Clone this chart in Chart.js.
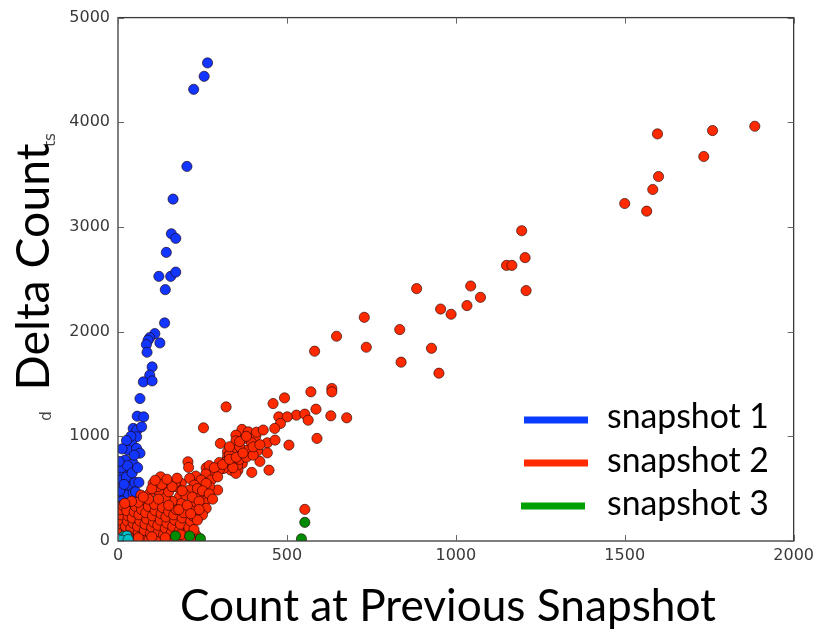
<!DOCTYPE html>
<html>
<head>
<meta charset="utf-8">
<script src="https://cdn.jsdelivr.net/npm/chart.js@4/dist/chart.umd.min.js"></script>
<style>
  html, body { margin: 0; padding: 0; background: #ffffff; }
  #wrap { width: 819px; height: 634px; position: relative; }
</style>
</head>
<body>
<div id="wrap"><canvas id="c" width="819" height="634"></canvas></div>
<script>
// ---------- data ----------
const seriesLabels = ['snapshot 1', 'snapshot 2', 'snapshot 3'];
const xTicks = [0, 500, 1000, 1500, 2000];
const yTicks = [0, 1000, 2000, 3000, 4000, 5000];
const xTitle = 'Count at Previous Snapshot';
const yTitle = 'Delta Count';

const snapshot1 = [
  [265,4567],[255,4439],[224,4315],[204,3578],[163,3266],[158,2935],[171,2891],[143,2757],
  [121,2528],[156,2528],[171,2569],[140,2401],[138,2083],[109,1981],[94,1943],[89,1918],
  [84,1876],[124,1892],[86,1803],[101,1663],[94,1584],[75,1520],[101,1529],[65,1361],
  [57,1192],[76,1186],[45,1075],[56,1059],[70,1091],[35,900],[55,995],[40,932],[30,868],
  [55,884],[65,839],[21,773],[45,741],[30,677],[16,646],[35,582],[21,518],[40,518],[16,423],
  [30,439],[50,375],[6,582],[10,700],[25,610],[5,480],[12,380],[8,260],[20,300],[35,340],
  [45,460],[2,150],[60,420],[50,560],[28,720],[48,820],[38,1000],[25,960],[4,60],[14,200],
  [3,330],[18,540],[42,650],[58,700],[12,880],[3,760],[52,470],[62,560]
];

const snapshot2 = [
  // outer trail
  [1885,3962],[1760,3921],[1597,3889],[1734,3673],[1600,3482],[1583,3358],[1500,3224],[1565,3151],
  [1195,2964],[1205,2707],[1150,2633],[1166,2633],[1208,2392],[1044,2436],[1073,2328],[1033,2249],
  [884,2411],[955,2216],[986,2166],[834,2020],[928,1841],[950,1603],[838,1708],[729,2137],
  [735,1851],[647,1956],[582,1813],
  // middle band
  [633,1457],[633,1425],[571,1425],[493,1367],[459,1313],[320,1281],[586,1259],[630,1196],
  [677,1177],[528,1202],[553,1212],[476,1186],[501,1186],[563,1154],[481,1123],[464,1075],
  [506,916],[589,980],[253,1081],[367,1066],[386,1043],[349,1011],[408,1002],[375,980],
  [349,957],[303,932],[442,938],[465,964],[324,852],[349,846],[386,861],[413,861],[442,842],
  [383,868],[324,805],[320,757],[339,741],[368,741],[309,693],[334,677],[355,677],[396,655],
  [447,677],[261,699],[290,661],[207,757],[209,703],[354,725],[312,693],[349,646],[280,640],
  [300,680],[340,700],[360,780],[380,800],[300,750],[270,720],[420,760],[400,820],[330,820],
  [395,940],[360,900],[553,302],
  [285,700],[310,730],[330,780],[350,800],[370,840],[400,900],[420,920],[360,950],[380,1000],
  [330,900],[410,1040],[430,1060],[230,620],[260,640],
  // lower cluster
  [276,582],[251,566],[295,487],[271,518],[261,391],[255,302],[251,455],[295,613],[246,582],
  [212,598],[226,534],[261,550],[187,550],[172,518],[126,613],[104,550],[143,487],[212,487],
  [241,455],[94,455],[124,455],[68,439],[182,423],[133,391],[84,359],[109,343],[6,327],
  [65,312],[45,296],[261,312],[226,327],[192,327],[172,327],[143,280],[114,248],[158,264],
  [202,232],[75,232],[16,232],[168,169],[133,136],[94,121],[55,136],[26,169],[182,136],
  [26,80],[84,73],[124,73],
  [2,20],[8,60],[5,110],[12,160],[3,200],[10,250],[6,300],[15,340],[20,30],[25,90],[22,140],
  [28,190],[30,240],[26,290],[35,10],[40,60],[38,120],[45,170],[42,220],[48,280],[52,330],
  [55,20],[60,80],[58,140],[65,190],[62,250],[70,300],[72,40],[78,100],[80,160],[85,210],
  [82,270],[90,330],[92,15],[96,70],[100,130],[105,180],[102,240],[110,290],[108,350],
  [115,30],[120,90],[118,150],[125,200],[128,260],[132,320],[135,60],[140,120],[145,170],
  [142,230],[150,280],[155,10],[158,80],[162,140],[168,200],[165,250],[172,300],[178,40],
  [182,100],[185,160],[190,220],[195,270],[200,20],[205,80],[210,130],[215,190],[222,240],
  [226,380],[230,60],[188,360],[160,380],[140,410],[118,520],[150,470],[200,440],[235,500],
  [170,560],[90,400],[60,370],[215,30],[225,110],
  [100,500],[130,540],[160,520],[190,480],[220,420],[240,380],[180,300],[205,340],[250,250],
  [235,200],[150,340],[120,400],[75,420],[40,380],[20,360],[145,590],[175,600],[250,480],
  [270,450],[280,400],[240,300],[215,260],[110,580],[60,30],[140,30],[185,60],[100,40],[30,50]
];

const snapshot3 = [
  [553,178],[543,20],[170,48],[212,48],[244,22]
];

const snapshot4 = [
  [16,41],[6,19],[26,48],[12,8],[30,15]
];

// ---------- colours ----------
const C_BLUE = '#1236ff';
const C_RED = '#ff2a00';
const C_GREEN = '#008c00';
const C_CYAN = '#00c0c8';
const C_LEG = ['#0a3cff', '#ff2a00', '#00a000'];

function toPts(a) { return a.map(p => ({ x: p[0], y: p[1] })); }

function ds(label, arr, color, order) {
  return {
    label: label,
    data: toPts(arr),
    backgroundColor: color,
    borderColor: 'rgba(30,0,0,0.7)',
    borderWidth: 0.9,
    pointRadius: 5.1,
    pointHoverRadius: 5.1,
    clip: 0,
    order: order
  };
}

const CALIBRI = 'Lato, "Open Sans", "Noto Sans", sans-serif';

function fitFont(ctx, text, width, family, weight) {
  let size = 40;
  ctx.font = (weight || '') + ' ' + size + 'px ' + family;
  const w = ctx.measureText(text).width;
  size = size * width / w;
  ctx.font = (weight || '') + ' ' + size.toFixed(2) + 'px ' + family;
  return size;
}

const framePlugin = {
  id: 'frame',
  afterDatasetsDraw(chart) {
    const { ctx, chartArea: a, scales } = chart;
    ctx.save();
    ctx.strokeStyle = '#3a3a3a';
    ctx.lineWidth = 1.3;
    ctx.strokeRect(a.left, a.top, a.right - a.left, a.bottom - a.top);
    ctx.strokeStyle = '#666';
    ctx.lineWidth = 1;
    const L = 6;
    xTicks.forEach(v => {
      const x = Math.round(scales.x.getPixelForValue(v)) + 0.5;
      ctx.beginPath();
      ctx.moveTo(x, a.bottom); ctx.lineTo(x, a.bottom - L);
      ctx.moveTo(x, a.top); ctx.lineTo(x, a.top + L);
      ctx.stroke();
    });
    yTicks.forEach(v => {
      const y = Math.round(scales.y.getPixelForValue(v)) + 0.5;
      ctx.beginPath();
      ctx.moveTo(a.left, y); ctx.lineTo(a.left + L, y);
      ctx.moveTo(a.right, y); ctx.lineTo(a.right - L, y);
      ctx.stroke();
    });
    ctx.restore();
  },
  afterDraw(chart) {
    const ctx = chart.ctx;
    ctx.save();
    // remnants of an older label
    ctx.fillStyle = '#444';
    ctx.font = '15px "DejaVu Sans"';
    ctx.textAlign = 'center';
    ctx.textBaseline = 'middle';
    ctx.save(); ctx.translate(51, 140); ctx.rotate(-Math.PI / 2); ctx.fillText('ts', 0, 0); ctx.restore();
    ctx.save(); ctx.translate(47, 416); ctx.rotate(-Math.PI / 2); ctx.fillText('d', 0, 0); ctx.restore();

    // axis titles
    ctx.fillStyle = '#000';
    ctx.textBaseline = 'alphabetic';
    ctx.textAlign = 'center';
    fitFont(ctx, xTitle, 536, CALIBRI);
    ctx.fillText(xTitle, 448, 621);
    ctx.save();
    ctx.translate(49, 267);
    ctx.rotate(-Math.PI / 2);
    fitFont(ctx, yTitle, 247, CALIBRI);
    ctx.fillText(yTitle, 0, 0);
    ctx.restore();

    // legend
    const rows = [
      { y: 420, x0: 524, x1: 588, tb: 428 },
      { y: 463, x0: 524, x1: 588, tb: 472 },
      { y: 506, x0: 521, x1: 585, tb: 515 }
    ];
    rows.forEach((r, i) => {
      ctx.strokeStyle = C_LEG[i];
      ctx.lineWidth = 7;
      ctx.lineCap = 'butt';
      ctx.beginPath(); ctx.moveTo(r.x0, r.y); ctx.lineTo(r.x1, r.y); ctx.stroke();
      ctx.fillStyle = '#000';
      ctx.textAlign = 'left';
      fitFont(ctx, seriesLabels[i], 162, CALIBRI);
      ctx.fillText(seriesLabels[i], 607, r.tb);
    });
    ctx.restore();
  }
};

const tickFont = { family: '"DejaVu Sans", sans-serif', size: 16 };
const plain = v => String(v);

new Chart(document.getElementById('c').getContext('2d'), {
  type: 'scatter',
  data: {
    datasets: [
      ds(seriesLabels[0], snapshot1, C_BLUE, 4),
      ds(seriesLabels[1], snapshot2, C_RED, 3),
      ds(seriesLabels[2], snapshot3, C_GREEN, 2),
      ds('snapshot 4', snapshot4, C_CYAN, 1)
    ]
  },
  options: {
    responsive: false,
    animation: false,
    devicePixelRatio: 1,
    layout: { padding: { left: 0, right: 22, top: 17, bottom: 0 } },
    plugins: { legend: { display: false }, tooltip: { enabled: false } },
    scales: {
      x: {
        type: 'linear', min: 0, max: 2000,
        afterBuildTicks(s) { s.ticks = xTicks.map(v => ({ value: v })); },
        ticks: { color: '#3a3a3a', font: tickFont, padding: 5, maxRotation: 0, autoSkip: false, callback: plain },
        grid: { display: false, drawTicks: false },
        border: { display: false },
        afterFit(s) { s.height = 93; }
      },
      y: {
        type: 'linear', min: 0, max: 5000,
        afterBuildTicks(s) { s.ticks = yTicks.map(v => ({ value: v })); },
        ticks: { color: '#3a3a3a', font: tickFont, padding: 8, autoSkip: false, callback: plain },
        grid: { display: false, drawTicks: false },
        border: { display: false },
        afterFit(s) { s.width = 118; }
      }
    }
  },
  plugins: [framePlugin]
});
</script>
</body>
</html>
